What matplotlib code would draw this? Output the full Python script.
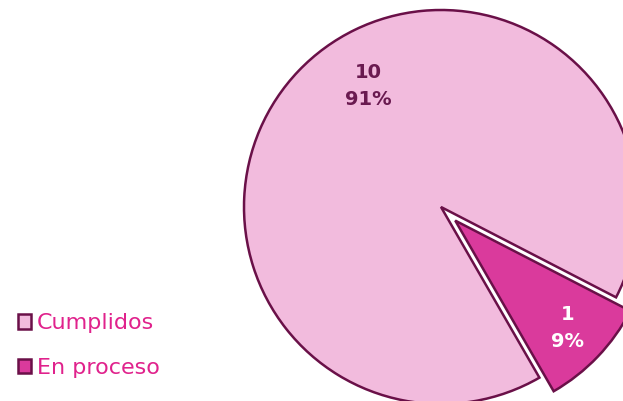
import matplotlib.pyplot as plt

# Data
labels = ['Cumplidos', 'En proceso']
values = [10, 1]
colors = ['#F2BBDD', '#DA3A9C']
edge = '#6A1048'

fig = plt.figure(figsize=(6.23, 4.01), dpi=100)
ax = fig.add_axes([0, 0, 1, 1])

total = sum(values)
wedges, texts, autotexts = ax.pie(
    values, colors=colors, startangle=-27.3, explode=[0, 0.1],
    autopct=lambda p: '%d\n%d%%' % (round(p * total / 100), round(p)),
    pctdistance=0.79,
    wedgeprops=dict(edgecolor=edge, linewidth=1.8),
    textprops=dict(fontsize=14, fontweight='bold'))

autotexts[0].set_color('#6A1A50')
autotexts[0].set_position((-0.37, 0.615))
autotexts[1].set_color('white')
for t in autotexts:
    t.set_linespacing(1.5)

# map data units to pixels: center at (441, 207) px, radius 197 px
ax.set_aspect('auto')
ax.set_xlim(-441 / 197, (623 - 441) / 197)
ax.set_ylim(-(401 - 207) / 197, 207 / 197)
ax.axis('off')

leg = fig.legend(wedges, labels, loc='lower left', bbox_to_anchor=(-0.003, 0.008),
                 frameon=False, fontsize=16, handlelength=0.6, handleheight=0.6,
                 handletextpad=0.25, labelspacing=1.1)
for t in leg.get_texts():
    t.set_color('#E0228C')

fig.savefig('out.png', dpi=100)
